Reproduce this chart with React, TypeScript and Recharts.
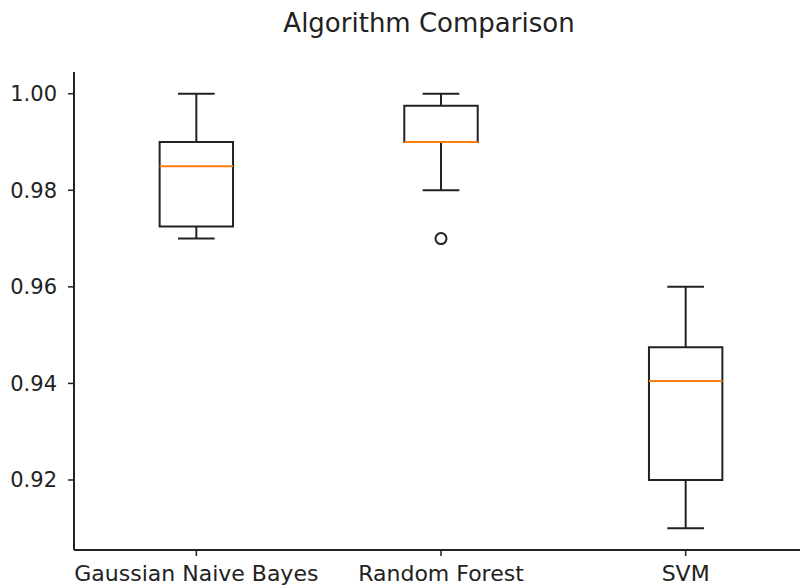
import React from 'react';
import {
  ComposedChart,
  XAxis,
  YAxis,
  ReferenceArea,
  ReferenceLine,
  Scatter,
} from 'recharts';

const categories = ['Gaussian Naive Bayes', 'Random Forest', 'SVM'];
const positions = [1, 2, 3];
const whiskerLow = [0.97, 0.98, 0.91];
const q1 = [0.9725, 0.99, 0.92];
const medians = [0.985, 0.99, 0.9405];
const q3 = [0.99, 0.9975, 0.9475];
const whiskerHigh = [1.0, 1.0, 0.96];
const outlierPos = [2];
const outlierValues = [0.97];
const yTicks = [0.92, 0.94, 0.96, 0.98, 1.0];

const X_DOMAIN: [number, number] = [0.5, 3.5];
const Y_DOMAIN: [number, number] = [0.9055, 1.0045];
const BOX_HALF = 0.15;
const CAP_HALF = 0.075;
const INK = '#222';
const FONT = 'DejaVu Sans, sans-serif';

const outlierData = outlierPos.map((p, i) => ({ pos: p, value: outlierValues[i] }));

export default function App() {
  return (
    <div style={{ position: 'absolute', left: 0, top: 0, width: 800, height: 588, overflow: 'hidden', background: '#fff' }}>
      <div
        style={{
          position: 'absolute',
          left: 0,
          top: 8,
          width: 858,
          textAlign: 'center',
          fontFamily: FONT,
          fontSize: 26,
          color: INK,
          lineHeight: '30px',
        }}
      >
        Algorithm Comparison
      </div>
      <ComposedChart
        width={810}
        height={588}
        margin={{ top: 72, right: 2, bottom: 0, left: 0 }}
        data={outlierData}
      >
        <XAxis
          xAxisId={0}
          dataKey="pos"
          type="number"
          domain={X_DOMAIN}
          allowDataOverflow
          ticks={positions}
          tickFormatter={(v: number) => categories[positions.indexOf(v)] ?? ''}
          height={38}
          tickSize={6}
          tickMargin={9}
          interval={0}
          axisLine={{ stroke: INK, strokeWidth: 2 }}
          tickLine={{ stroke: INK, strokeWidth: 1.5 }}
          tick={{ fill: INK, fontSize: 22, fontFamily: FONT }}
        />
        <XAxis
          xAxisId="top"
          orientation="top"
          type="number"
          domain={X_DOMAIN}
          allowDataOverflow
          height={0}
          tick={false}
          tickLine={false}
          axisLine={{ stroke: INK, strokeWidth: 2 }}
        />
        <YAxis
          dataKey="value"
          type="number"
          domain={Y_DOMAIN}
          allowDataOverflow
          ticks={yTicks}
          interval={0}
          tickFormatter={(v: number) => v.toFixed(2)}
          width={74}
          tickSize={6}
          tickMargin={11}
          axisLine={{ stroke: INK, strokeWidth: 2 }}
          tickLine={{ stroke: INK, strokeWidth: 1.5 }}
          tick={{ fill: INK, fontSize: 21, fontFamily: FONT }}
        />
        {positions.map((p, i) => (
          <ReferenceLine
            key={`wl-${i}`}
            segment={[{ x: p, y: whiskerLow[i] }, { x: p, y: q1[i] }]}
            stroke={INK}
            strokeWidth={2}
          />
        ))}
        {positions.map((p, i) => (
          <ReferenceLine
            key={`wh-${i}`}
            segment={[{ x: p, y: q3[i] }, { x: p, y: whiskerHigh[i] }]}
            stroke={INK}
            strokeWidth={2}
          />
        ))}
        {positions.map((p, i) => (
          <ReferenceLine
            key={`cl-${i}`}
            segment={[{ x: p - CAP_HALF, y: whiskerLow[i] }, { x: p + CAP_HALF, y: whiskerLow[i] }]}
            stroke={INK}
            strokeWidth={2}
          />
        ))}
        {positions.map((p, i) => (
          <ReferenceLine
            key={`ch-${i}`}
            segment={[{ x: p - CAP_HALF, y: whiskerHigh[i] }, { x: p + CAP_HALF, y: whiskerHigh[i] }]}
            stroke={INK}
            strokeWidth={2}
          />
        ))}
        {positions.map((p, i) => (
          <ReferenceArea
            key={`box-${i}`}
            x1={p - BOX_HALF}
            x2={p + BOX_HALF}
            y1={q1[i]}
            y2={q3[i]}
            fill="#fff"
            fillOpacity={0}
            stroke={INK}
            strokeWidth={2}
            strokeOpacity={1}
          />
        ))}
        {positions.map((p, i) => (
          <ReferenceLine
            key={`med-${i}`}
            segment={[{ x: p - BOX_HALF, y: medians[i] }, { x: p + BOX_HALF, y: medians[i] }]}
            stroke="#ff7f0e"
            strokeWidth={2}
          />
        ))}
        <Scatter
          dataKey="value"
          isAnimationActive={false}
          shape={(props: any) => (
            <circle cx={props.cx} cy={props.cy} r={5.5} fill="none" stroke={INK} strokeWidth={2} />
          )}
        />
      </ComposedChart>
    </div>
  );
}
